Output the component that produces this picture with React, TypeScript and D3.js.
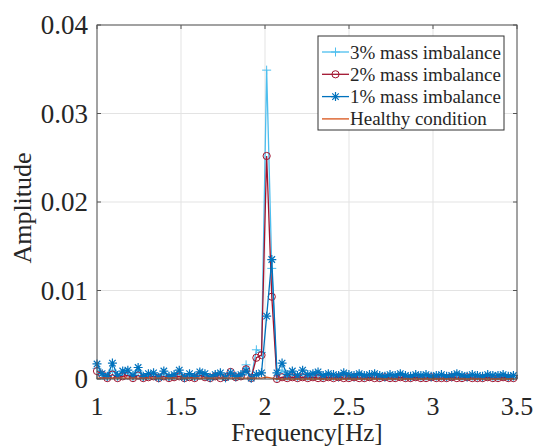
import React from "react";
import * as d3 from "d3";

const F0 = 1.0;
const DF = 0.0306;

const imb1 = [
  0.0017, 0.0006, 0.0003, 0.0018, 0.0004, 0.0009, 0.0010, 0.0004, 0.0013, 0.0003,
  0.0006, 0.0007, 0.0002, 0.0009, 0.0003, 0.0005, 0.0010, 0.0002, 0.0006, 0.0003,
  0.0008, 0.0006, 0.0002, 0.0005, 0.0007, 0.0002, 0.0007, 0.0003, 0.0005, 0.0009,
  0.0001, 0.0005, 0.0007, 0.0071, 0.0135, 0.0007, 0.0018, 0.0005, 0.0009, 0.0004,
  0.0010, 0.0005, 0.0006, 0.0008, 0.0004, 0.0006, 0.0005, 0.0004, 0.0007, 0.0005,
  0.0004, 0.0006, 0.0004, 0.0005, 0.0006, 0.0004, 0.0003, 0.0005, 0.0004, 0.0006,
  0.0004, 0.0003, 0.0005, 0.0004, 0.0005, 0.0003, 0.0004, 0.0005, 0.0003, 0.0004,
  0.0006, 0.0004, 0.0003, 0.0005, 0.0004, 0.0003, 0.0005, 0.0004, 0.0004, 0.0005,
  0.0003, 0.0004,
];

const imb2 = [
  0.0009, 0.0005, 0.0001, 0.0005, 0.0001, 0.0003, 0.0004, 0.0001, 0.0004, 0.0001,
  0.0002, 0.0003, 0.0001, 0.0003, 0.0001, 0.0002, 0.0003, 0.0001, 0.0002, 0.0001,
  0.0004, 0.0002, 0.0001, 0.0003, 0.0001, 0.0002, 0.0008, 0.0002, 0.0003, 0.0011,
  0.0001, 0.0024, 0.0027, 0.0252, 0.0093, 0.0000, 0.0002, 0.0001, 0.0002, 0.0001,
  0.0002, 0.0001, 0.0002, 0.0001, 0.0001, 0.0002, 0.0001, 0.0002, 0.0001, 0.0001,
  0.0002, 0.0001, 0.0001, 0.0002, 0.0001, 0.0001, 0.0002, 0.0001, 0.0001, 0.0002,
  0.0001, 0.0001, 0.0002, 0.0001, 0.0001, 0.0002, 0.0001, 0.0001, 0.0001, 0.0002,
  0.0001, 0.0001, 0.0002, 0.0001, 0.0001, 0.0001, 0.0002, 0.0001, 0.0001, 0.0002,
  0.0001, 0.0001,
];

const imb3 = [
  0.0012, 0.0004, 0.0002, 0.0010, 0.0002, 0.0006, 0.0007, 0.0002, 0.0009, 0.0002,
  0.0004, 0.0005, 0.0001, 0.0006, 0.0002, 0.0003, 0.0007, 0.0001, 0.0004, 0.0002,
  0.0006, 0.0004, 0.0001, 0.0004, 0.0005, 0.0001, 0.0006, 0.0002, 0.0004, 0.0016,
  0.0001, 0.0033, 0.0030, 0.0349, 0.0125, 0.0001, 0.0010, 0.0003, 0.0005, 0.0002,
  0.0006, 0.0003, 0.0004, 0.0005, 0.0002, 0.0004, 0.0003, 0.0002, 0.0004, 0.0003,
  0.0002, 0.0004, 0.0002, 0.0003, 0.0004, 0.0002, 0.0002, 0.0003, 0.0002, 0.0004,
  0.0002, 0.0002, 0.0003, 0.0002, 0.0003, 0.0002, 0.0002, 0.0003, 0.0002, 0.0002,
  0.0004, 0.0002, 0.0002, 0.0003, 0.0002, 0.0002, 0.0003, 0.0002, 0.0002, 0.0003,
  0.0002, 0.0002,
];

const healthy = [
  0.0001, 0.0001, 0.0001, 0.0001, 0.0001, 0.0001, 0.0001, 0.0001, 0.0001, 0.0001,
  0.0001, 0.0001, 0.0001, 0.0001, 0.0001, 0.0001, 0.0001, 0.0001, 0.0001, 0.0001,
  0.0001, 0.0001, 0.0001, 0.0001, 0.0001, 0.0001, 0.0001, 0.0001, 0.0001, 0.0001,
  0.0001, 0.0001, 0.0001, 0.0002, 0.0001, 0.0000, 0.0000, 0.0000, 0.0000, 0.0000,
  0.0000, 0.0000, 0.0000, 0.0000, 0.0000, 0.0000, 0.0000, 0.0000, 0.0000, 0.0000,
  0.0000, 0.0000, 0.0000, 0.0000, 0.0000, 0.0000, 0.0000, 0.0000, 0.0000, 0.0000,
  0.0000, 0.0000, 0.0000, 0.0000, 0.0000, 0.0000, 0.0000, 0.0000, 0.0000, 0.0000,
  0.0000, 0.0000, 0.0000, 0.0000, 0.0000, 0.0000, 0.0000, 0.0000, 0.0000, 0.0000,
  0.0000, 0.0000,
];

const xTicks = [1, 1.5, 2, 2.5, 3, 3.5];
const yTicks = [0, 0.01, 0.02, 0.03, 0.04];
const seriesNames = ["3% mass imbalance", "2% mass imbalance", "1% mass imbalance", "Healthy condition"];
const seriesColors = ["#4DBEEE", "#A2142F", "#0072BD", "#D95319"];
const seriesMarkers = ["plus", "circle", "star", "none"];

const W = 536;
const H = 447;
const M = { left: 97, right: 517, top: 25, bottom: 379 };
const FONT = "'Liberation Serif', 'Times New Roman', serif";

function Marker({ type, x, y, color }: { type: string; x: number; y: number; color: string }) {
  const s = 4.5;
  if (type === "plus") {
    return (
      <path d={`M${x - s},${y}H${x + s}M${x},${y - s}V${y + s}`} stroke={color} strokeWidth={1} fill="none" />
    );
  }
  if (type === "circle") {
    return <circle cx={x} cy={y} r={3.6} stroke={color} strokeWidth={1} fill="none" />;
  }
  if (type === "star") {
    const d = s * 0.72;
    return (
      <path
        d={`M${x - s},${y}H${x + s}M${x},${y - s}V${y + s}M${x - d},${y - d}L${x + d},${y + d}M${x - d},${y + d}L${x + d},${y - d}`}
        stroke={color}
        strokeWidth={1.2}
        fill="none"
      />
    );
  }
  return null;
}

export default function App() {
  const x = d3.scaleLinear().domain([1, 3.5]).range([M.left, M.right]);
  const y = d3.scaleLinear().domain([0, 0.04]).range([M.bottom, M.top]);
  const all = [imb3, imb2, imb1, healthy];
  const line = d3
    .line<number>()
    .x((_, i) => x(F0 + i * DF))
    .y((v) => y(v));

  const legX = 318;
  const legY = 36;
  const legW = 186;
  const legH = 94;
  const rowH = 22.3;

  return (
    <svg width={W} height={H} style={{ position: "absolute", left: 0, top: 0 }} fontFamily={FONT}>
      <rect x={0} y={0} width={W} height={H} fill="#fff" />
      {xTicks.map((t) => (
        <line key={"gx" + t} x1={x(t)} x2={x(t)} y1={M.top} y2={M.bottom} stroke="#e3e3e3" strokeWidth={1} />
      ))}
      {yTicks.map((t) => (
        <line key={"gy" + t} x1={M.left} x2={M.right} y1={y(t)} y2={y(t)} stroke="#e3e3e3" strokeWidth={1} />
      ))}
      {all.map((data, si) => (
        <g key={"s" + si}>
          <path d={line(data) || ""} fill="none" stroke={seriesColors[si]} strokeWidth={1.3} />
          {data.map((v, i) => (
            <Marker key={i} type={seriesMarkers[si]} x={x(F0 + i * DF)} y={y(v)} color={seriesColors[si]} />
          ))}
        </g>
      ))}
      <rect x={M.left} y={M.top} width={M.right - M.left} height={M.bottom - M.top} fill="none" stroke="#555" strokeWidth={1} />
      {xTicks.map((t) => (
        <g key={"tx" + t}>
          <line x1={x(t)} x2={x(t)} y1={M.bottom} y2={M.bottom - 4} stroke="#555" />
          <line x1={x(t)} x2={x(t)} y1={M.top} y2={M.top + 4} stroke="#555" />
          <text x={x(t)} y={415} textAnchor="middle" fontSize={26} fill="#262626">
            {d3.format("")(t)}
          </text>
        </g>
      ))}
      {yTicks.map((t) => (
        <g key={"ty" + t}>
          <line x1={M.left} x2={M.left + 4} y1={y(t)} y2={y(t)} stroke="#555" />
          <line x1={M.right} x2={M.right - 4} y1={y(t)} y2={y(t)} stroke="#555" />
          <text x={88} y={y(t) + 9} textAnchor="end" fontSize={27} fill="#262626">
            {t === 0 ? "0" : d3.format(".2f")(t)}
          </text>
        </g>
      ))}
      <text x={(M.left + M.right) / 2} y={441} textAnchor="middle" fontSize={25} fill="#262626">
        Frequency[Hz]
      </text>
      <text
        transform={`translate(31,${(M.top + M.bottom) / 2 + 6}) rotate(-90)`}
        textAnchor="middle"
        fontSize={26}
        fill="#262626"
      >
        Amplitude
      </text>
      <rect x={legX} y={legY} width={legW} height={legH} fill="#fff" stroke="#333" strokeWidth={1} />
      {seriesNames.map((n, i) => {
        const cy = legY + 16 + i * rowH;
        return (
          <g key={"l" + i}>
            <line x1={legX + 4} x2={legX + 31} y1={cy} y2={cy} stroke={seriesColors[i]} strokeWidth={1.3} />
            <Marker type={seriesMarkers[i]} x={legX + 17.5} y={cy} color={seriesColors[i]} />
            <text x={legX + 32} y={cy + 6.5} fontSize={19} fill="#262626">
              {n}
            </text>
          </g>
        );
      })}
    </svg>
  );
}
